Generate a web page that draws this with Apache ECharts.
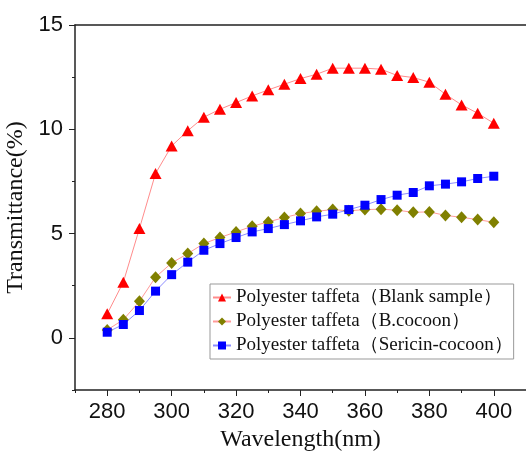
<!DOCTYPE html>
<html>
<head>
<meta charset="utf-8">
<script src="https://cdn.jsdelivr.net/npm/echarts@6/dist/echarts.min.js"></script>
<style>html,body{margin:0;padding:0;background:#fff}#c{width:526px;height:453px}</style>
</head>
<body>
<div id="c"></div>
<script>
const wavelengths = [280,285,290,295,300,305,310,315,320,325,330,335,340,345,350,355,360,365,370,375,380,385,390,395,400];
const blankSample = [1.15,2.67,5.24,7.88,9.20,9.93,10.58,10.96,11.28,11.60,11.89,12.16,12.43,12.64,12.93,12.93,12.93,12.88,12.58,12.48,12.26,11.68,11.17,10.77,10.29];
const bCocoon = [0.38,0.87,1.75,2.91,3.59,4.04,4.52,4.81,5.08,5.35,5.56,5.77,5.96,6.07,6.15,6.09,6.15,6.17,6.12,6.02,6.04,5.87,5.78,5.67,5.54];
const sericinCocoon = [0.27,0.64,1.31,2.24,3.03,3.63,4.20,4.52,4.81,5.08,5.24,5.43,5.61,5.80,5.93,6.15,6.36,6.63,6.84,6.97,7.29,7.37,7.48,7.64,7.75];
const seriesNames = ['Polyester taffeta（Blank sample）','Polyester taffeta（B.cocoon）','Polyester taffeta（Sericin-cocoon）'];
const xMajorTicks = [280,300,320,340,360,380,400];
const yMajorTicks = [0,5,10,15];

const pair = arr => wavelengths.map((w,i)=>[w,arr[i]]);
const axisColor = '#222';
const chart = echarts.init(document.getElementById('c'));
chart.setOption({
  animation:false,
  backgroundColor:'#fff',
  grid:{left:75, top:25, right:0, bottom:63, outerBoundsMode:'none', containLabel:false},
  legend:{
    orient:'vertical', left:210, top:284,
    padding:[4,1,4,2], itemGap:5, itemWidth:18, itemHeight:10,
    borderColor:'#999', borderWidth:1, backgroundColor:'#fff',
    textStyle:{fontFamily:'Liberation Serif', fontSize:19, color:'#111'},
    data:seriesNames
  },
  xAxis:[
    {type:'value', min:270, max:410, interval:10, position:'bottom',
     axisLine:{onZero:false, lineStyle:{color:axisColor, width:1.5}},
     axisTick:{length:3, lineStyle:{color:axisColor}},
     axisLabel:{fontFamily:'Liberation Sans', fontSize:22, color:'#111', margin:11,
       formatter:v => (v>=280 && v<=400 && (v-280)%20===0) ? String(v) : ''},
     splitLine:{show:false},
     name:'Wavelength(nm)', nameLocation:'middle', nameGap:37,
     nameTextStyle:{fontFamily:'Liberation Serif', fontSize:24, color:'#111'}},
    {type:'value', min:270, max:410, position:'bottom',
     axisLine:{show:false, onZero:false},
     axisTick:{show:true, length:6, customValues:xMajorTicks, lineStyle:{color:axisColor}},
     axisLabel:{show:false}, splitLine:{show:false}},
    {type:'value', min:270, max:410, position:'top',
     axisLine:{onZero:false, lineStyle:{color:axisColor, width:1.5}},
     axisTick:{show:false}, axisLabel:{show:false}, splitLine:{show:false}}
  ],
  yAxis:[
    {type:'value', min:-2.5, max:15, interval:2.5, position:'left',
     axisLine:{show:true, onZero:false, lineStyle:{color:axisColor, width:1.5}},
     axisTick:{show:true, length:3, lineStyle:{color:axisColor}},
     axisLabel:{fontFamily:'Liberation Sans', fontSize:22, color:'#111', margin:12,
       formatter:v => (Math.abs(v%5)<1e-9) ? String(v) : ''},
     splitLine:{show:false},
     name:'Transmittance(%)', nameLocation:'middle', nameGap:42,
     nameTextStyle:{fontFamily:'Liberation Serif', fontSize:24, color:'#111'}},
    {type:'value', min:-2.5, max:15, position:'left',
     axisLine:{show:false, onZero:false},
     axisTick:{show:true, length:6, customValues:yMajorTicks, lineStyle:{color:axisColor}},
     axisLabel:{show:false}, splitLine:{show:false}}
  ],
  series:[
    {name:seriesNames[0], type:'line', data:pair(blankSample),
     symbol:'triangle', symbolSize:[12,11],
     itemStyle:{color:'#ff0000'}, lineStyle:{color:'#ff8c8c', width:1}},
    {name:seriesNames[1], type:'line', data:pair(bCocoon),
     symbol:'diamond', symbolSize:[11,12],
     itemStyle:{color:'#808000'}, lineStyle:{color:'#ff9a9a', width:1}},
    {name:seriesNames[2], type:'line', data:pair(sericinCocoon),
     symbol:'rect', symbolSize:9,
     itemStyle:{color:'#0000ff'}, lineStyle:{color:'#8c8cff', width:1}}
  ]
});
</script>
</body>
</html>
